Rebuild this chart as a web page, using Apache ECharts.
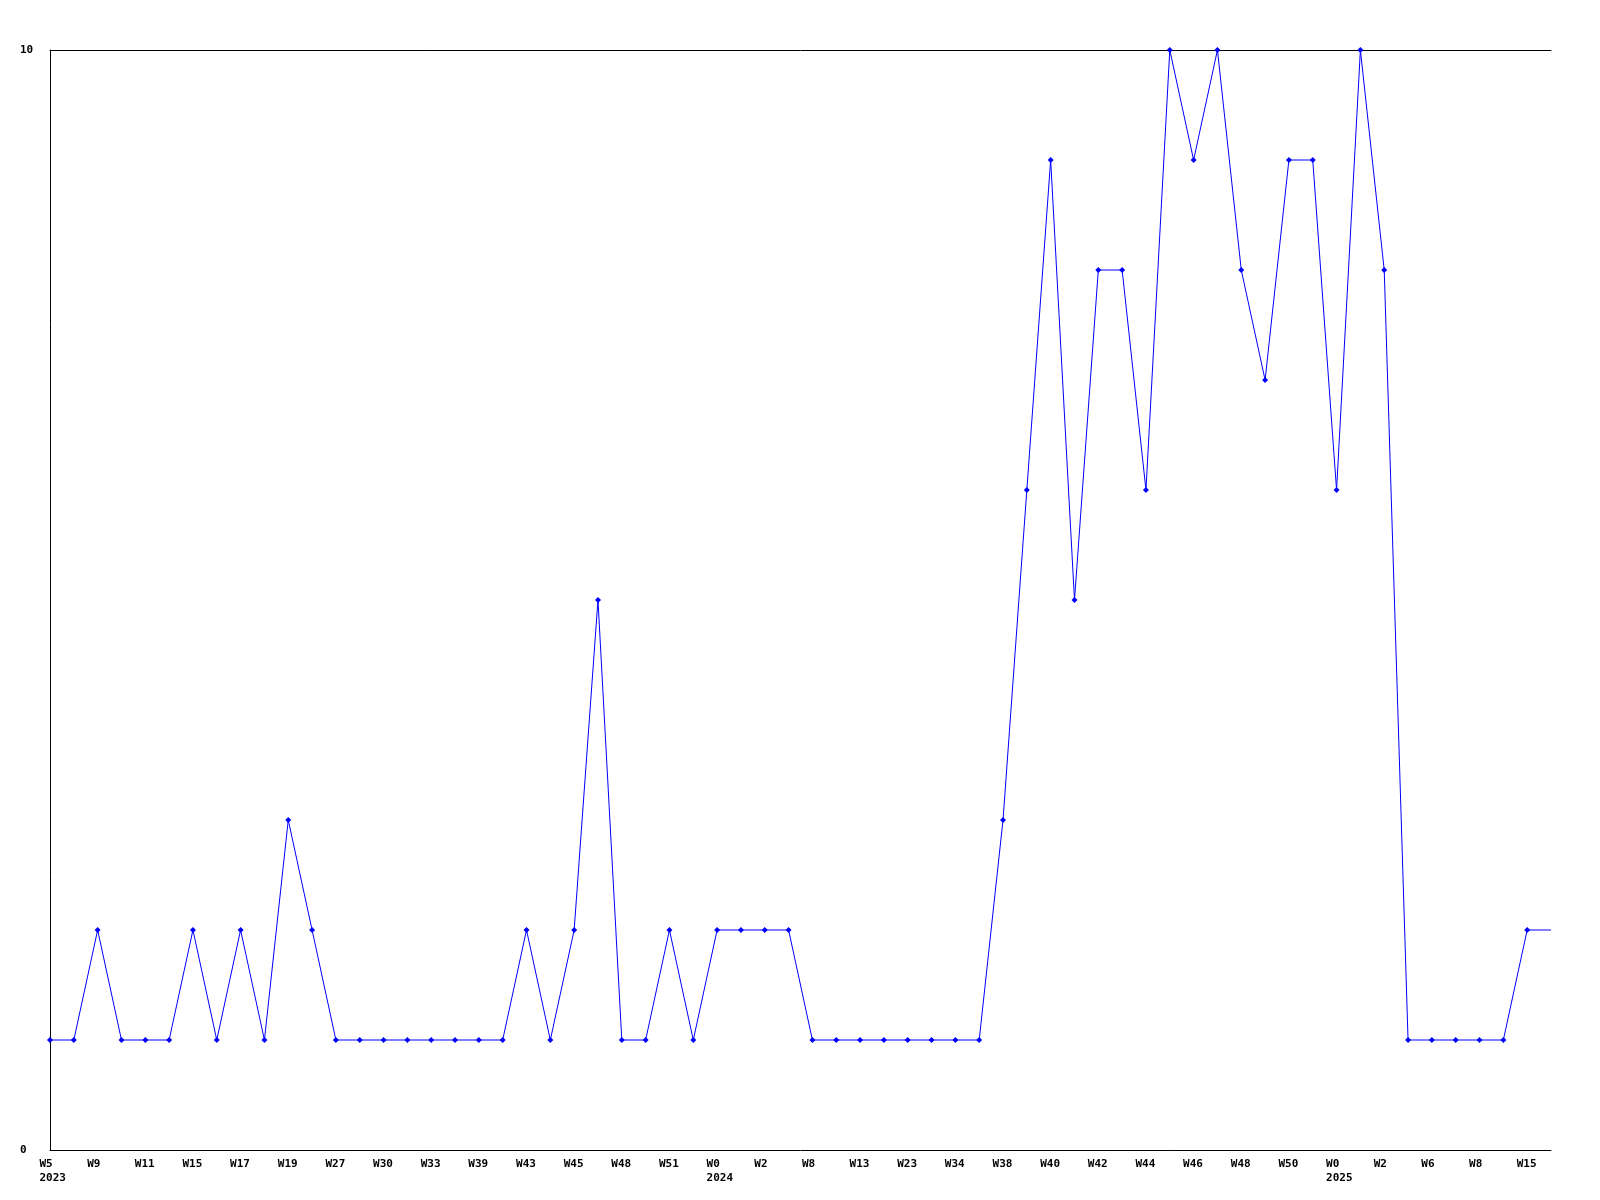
<!DOCTYPE html>
<html>
<head>
<meta charset="utf-8">
<script src="https://cdn.jsdelivr.net/npm/echarts@6/dist/echarts.min.js"></script>
<style>
html,body{margin:0;padding:0;background:#fff;}
#chart{width:1600px;height:1200px;}
</style>
</head>
<body>
<div id="chart"></div>
<script>
// Week categories (year shown under first week of each year)
const categories = [
  'W5\n2023','W7','W9','W10','W11','W13','W15','W16','W17','W18',
  'W19','W22','W27','W28','W30','W32','W33','W36','W39','W41',
  'W43','W44','W45','W46','W48','W50','W51','W52','W0\n2024','W1',
  'W2','W5','W8','W11','W13','W18','W23','W30','W34','W36',
  'W38','W39','W40','W41','W42','W43','W44','W45','W46','W47',
  'W48','W49','W50','W51','W0\n2025','W1','W2','W4','W6','W7',
  'W8','W10','W15','W16'
];
const values = [
  1,1,2,1,1,1,2,1,2,1,
  3,2,1,1,1,1,1,1,1,1,
  2,1,2,5,1,1,2,1,2,2,
  2,2,1,1,1,1,1,1,1,1,
  3,6,9,5,8,8,6,10,9,10,
  8,7,9,9,6,10,8,1,1,1,
  1,1,2,2
];
const yMin = 0, yMax = 10;

const labelFont = { fontFamily: 'DejaVu Sans Mono', fontWeight: 'bold', fontSize: 11, color: '#000' };
const chart = echarts.init(document.getElementById('chart'), null, { renderer: 'canvas' });
chart.setOption({
  animation: false,
  backgroundColor: '#fff',
  grid: { left: 50, right: 49, top: 50, bottom: 50, containLabel: false },
  xAxis: [{
    type: 'category',
    data: categories,
    boundaryGap: false,
    axisLine: { show: true, lineStyle: { color: '#000', width: 1 } },
    axisTick: { show: false },
    splitLine: { show: false },
    axisLabel: Object.assign({
      interval: 1, align: 'left', margin: 7, lineHeight: 14,
      padding: [0, 0, 0, -10.5]
    }, labelFont)
  }, {
    type: 'category',
    position: 'top',
    data: categories,
    boundaryGap: false,
    axisLine: { show: true, lineStyle: { color: '#000', width: 1 } },
    axisTick: { show: false },
    axisLabel: { show: false },
    splitLine: { show: false }
  }],
  yAxis: {
    type: 'value',
    min: yMin, max: yMax, interval: 10,
    axisLine: { show: true, lineStyle: { color: '#000', width: 1 } },
    axisTick: { show: false },
    splitLine: { show: false },
    axisLabel: Object.assign({ align: 'left', margin: 30 }, labelFont)
  },
  series: [{
    type: 'line',
    data: values,
    xAxisIndex: 0,
    symbol: 'diamond',
    symbolSize: (v, p) => p.dataIndex === values.length - 1 ? 0 : 6,
    showAllSymbol: true,
    lineStyle: { color: '#0000ff', width: 1 },
    itemStyle: { color: '#0000ff' },
    clip: false
  }]
});
</script>
</body>
</html>
